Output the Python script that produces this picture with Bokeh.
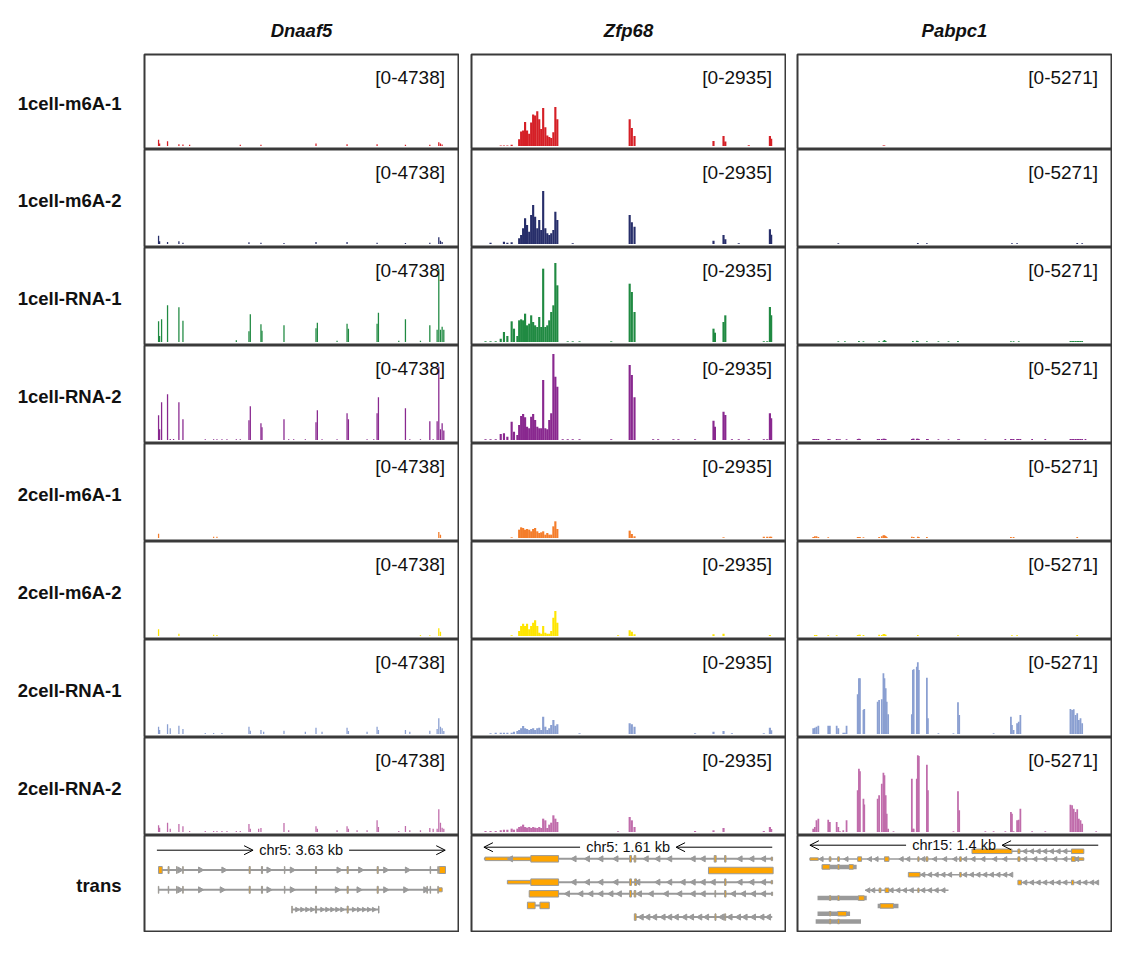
import math
from bokeh.plotting import figure
from bokeh.layouts import row, column
from bokeh.models import Range1d, Spacer, Arrow, OpenHead
from bokeh.core.properties import value
from bokeh.embed import file_html
from bokeh.resources import INLINE

FONT = "Liberation Sans"

genes = ["Dnaaf5", "Zfp68", "Pabpc1"]
chroms = ["chr5", "chr5", "chr15"]
span_kb = [3.63, 1.61, 1.4]
strands = ["+", "-", "-"]
range_max = [4738, 2935, 5271]
tracks = ["1cell-m6A-1", "1cell-m6A-2", "1cell-RNA-1", "1cell-RNA-2",
          "2cell-m6A-1", "2cell-m6A-2", "2cell-RNA-1", "2cell-RNA-2"]
colors = ["#D51F26", "#272E6A", "#208A42", "#89288F",
          "#F47D2B", "#FEE500", "#8A9FD1", "#C06CAB"]

# ---- Dnaaf5 coverage: bin positions (bp from region start) and one list per track
dn_pos = [21, 34, 59, 134, 168, 210, 277, 328, 412, 609, 714, 756, 819, 882, 1000, 1050,
          1159, 1176, 1281, 1310, 1323, 1344, 1600, 1659, 1722, 1869, 2003, 2020, 2079, 2268, 2394, 2411,
          2520, 2646, 2730, 2772, 2789, 3045, 3129, 3184, 3318, 3436, 3478, 3528, 3549, 3570, 3591, 3612]
dn_c1_m6a_1 = [347, 139, 0, 260, 0, 0, 104, 87, 69, 0, 0, 0, 0, 0, 0, 69,
               0, 0, 0, 69, 0, 0, 0, 0, 0, 0, 139, 0, 0, 0, 104, 0,
               0, 0, 0, 104, 0, 0, 69, 0, 0, 69, 0, 0, 208, 139, 87, 0]
dn_c1_m6a_2 = [434, 139, 0, 104, 0, 0, 139, 69, 0, 0, 0, 0, 0, 0, 0, 0,
               87, 0, 0, 69, 0, 0, 52, 0, 0, 0, 104, 0, 0, 0, 104, 0,
               0, 0, 0, 69, 0, 0, 52, 0, 0, 69, 0, 0, 347, 174, 104, 0]
dn_c1_rna_1 = [1077, 312, 1180, 1909, 0, 0, 1805, 1110, 0, 0, 0, 0, 0, 0, 87, 0,
               555, 1440, 0, 920, 590, 0, 868, 0, 0, 0, 711, 1006, 0, 60, 955, 694,
               0, 0, 0, 955, 1527, 70, 1180, 0, 70, 868, 0, 642, 3818, 642, 798, 642]
dn_c1_rna_2 = [1284, 555, 1961, 2378, 52, 52, 1961, 1076, 0, 45, 45, 45, 45, 45, 45, 45,
               1024, 1753, 0, 868, 660, 0, 1076, 45, 45, 45, 920, 1545, 45, 45, 1389, 1076,
               0, 45, 45, 1389, 2222, 0, 1649, 45, 45, 972, 45, 972, 3819, 555, 868, 500]
dn_c2_m6a_1 = [226, 0, 0, 0, 0, 0, 0, 0, 0, 0, 70, 60, 0, 0, 0, 0,
               0, 0, 0, 0, 0, 0, 0, 0, 0, 0, 0, 0, 0, 0, 0, 0,
               0, 0, 0, 0, 0, 0, 0, 0, 0, 0, 0, 0, 312, 174, 0, 0]
dn_c2_m6a_2 = [347, 0, 0, 0, 0, 0, 120, 0, 0, 0, 70, 50, 0, 0, 0, 0,
               0, 0, 0, 0, 0, 0, 0, 0, 0, 0, 0, 0, 0, 0, 0, 0,
               0, 0, 0, 0, 0, 0, 0, 0, 50, 40, 0, 0, 400, 226, 0, 0]
dn_c2_rna_1 = [382, 208, 0, 503, 295, 0, 434, 260, 0, 50, 50, 0, 50, 0, 0, 0,
               382, 170, 0, 208, 0, 120, 174, 0, 0, 120, 330, 0, 120, 0, 330, 150,
               0, 120, 0, 382, 208, 0, 208, 120, 0, 174, 0, 260, 816, 382, 295, 156]
dn_c2_rna_2 = [347, 226, 0, 486, 174, 0, 417, 295, 52, 52, 52, 52, 52, 52, 52, 52,
               417, 174, 174, 208, 0, 0, 469, 87, 0, 0, 295, 174, 0, 87, 295, 174,
               87, 87, 0, 608, 260, 52, 312, 87, 87, 208, 174, 174, 1180, 486, 226, 174]

# ---- Zfp68 coverage
zf_pos = [9, 37, 66, 94, 112, 131, 155, 168, 187,
          197, 208, 219, 230, 241, 253, 264, 275, 286, 298, 309, 320, 331, 343, 354, 365, 376, 388, 399, 410,
          440, 468, 496, 534, 711, 749, 814, 826, 841, 945, 973, 1058, 1086, 1179, 1282, 1290, 1338, 1348,
          1385, 1423, 1479, 1563, 1582, 1597, 1604]
zf_c1_m6a_1 = [0, 0, 0, 22, 22, 22, 43, 0, 0,
               226, 484, 516, 800, 516, 409, 785, 1054, 1021, 1161, 892, 570, 1268, 624, 355, 301, 269, 462, 1301, 892,
               0, 0, 0, 0, 0, 0, 892, 600, 333, 0, 0, 0, 0, 0, 172, 0, 333, 150, 0, 0, 30, 0, 0, 333, 247]
zf_c1_m6a_2 = [0, 43, 0, 0, 75, 43, 54, 0, 0,
               183, 290, 505, 828, 613, 398, 935, 1258, 882, 505, 774, 452, 1709, 505, 344, 290, 344, 452, 1043, 774,
               0, 0, 22, 0, 0, 0, 935, 700, 559, 0, 0, 0, 0, 0, 108, 0, 290, 150, 0, 22, 0, 0, 0, 473, 300]
zf_c1_rna_1 = [22, 22, 22, 108, 323, 194, 667, 430, 194,
               699, 731, 699, 914, 538, 591, 860, 645, 538, 484, 806, 484, 2365, 484, 538, 699, 968, 1183, 2548, 1828,
               0, 22, 22, 22, 22, 0, 1881, 1613, 968, 0, 0, 0, 0, 0, 430, 300, 645, 860, 0, 0, 0, 22, 22, 1129, 860]
zf_c1_rna_2 = [22, 22, 22, 194, 215, 108, 591, 269, 161,
               484, 774, 839, 731, 430, 376, 753, 839, 645, 430, 376, 376, 1935, 376, 344, 645, 860, 2774, 2043, 1720,
               22, 22, 22, 22, 22, 0, 2419, 2100, 1376, 22, 22, 22, 22, 22, 624, 430, 914, 806, 22, 22, 22, 22, 22, 860, 699]
zf_c2_m6a_1 = [0, 0, 0, 0, 0, 0, 22, 0, 0,
               269, 344, 323, 269, 290, 269, 215, 290, 323, 215, 161, 183, 215, 108, 161, 108, 108, 376, 538, 290,
               0, 0, 0, 0, 0, 0, 237, 129, 54, 0, 0, 0, 0, 0, 0, 0, 22, 0, 0, 0, 0, 43, 43, 43, 43]
zf_c2_m6a_2 = [0, 0, 0, 0, 0, 0, 22, 0, 0,
               161, 323, 398, 323, 398, 215, 323, 430, 505, 323, 108, 75, 323, 108, 75, 75, 161, 591, 806, 430,
               0, 0, 0, 0, 0, 22, 183, 140, 54, 0, 0, 0, 0, 0, 54, 0, 75, 0, 0, 0, 0, 0, 0, 32, 0]
zf_c2_rna_1 = [0, 22, 43, 43, 43, 43, 43, 75, 97,
               129, 183, 258, 183, 161, 129, 161, 183, 129, 183, 204, 129, 559, 237, 129, 183, 290, 452, 269, 312,
               0, 0, 0, 22, 0, 0, 344, 312, 237, 0, 0, 0, 0, 22, 75, 0, 97, 0, 22, 0, 0, 22, 0, 204, 120]
zf_c2_rna_2 = [32, 32, 32, 54, 75, 75, 108, 75, 108,
               161, 183, 237, 161, 140, 161, 129, 161, 140, 129, 161, 129, 430, 376, 129, 237, 301, 538, 430, 323,
               0, 0, 0, 0, 0, 22, 484, 376, 161, 0, 0, 0, 0, 32, 54, 0, 129, 0, 0, 0, 0, 32, 0, 161, 100]

# ---- Pabpc1 coverage
pa_pos = [16, 24, 32, 41, 89, 97, 130, 138, 146, 162, 170, 178, 232, 238, 243, 260, 264, 329, 336, 349,
          357, 362, 368, 373, 380, 406, 495, 500, 504, 519, 524, 529, 568, 573, 624, 673, 697, 719, 725, 852,
          892, 949, 976, 981, 989, 1006, 1014, 1022, 1079, 1143, 1265, 1273, 1281, 1290, 1298, 1306, 1314, 1322, 1338, 1390]
pa_c1_m6a_1 = [0, 0, 0, 0, 0, 0, 0, 0, 0, 0, 0, 0, 0, 0, 0, 0, 0, 0, 0, 0,
               39, 39, 0, 0, 0, 0, 0, 0, 0, 0, 0, 0, 0, 0, 0, 0, 0, 0, 0, 0,
               0, 0, 0, 0, 0, 0, 0, 0, 0, 0, 0, 0, 0, 0, 0, 0, 0, 0, 0, 0]
pa_c1_m6a_2 = [0, 0, 0, 0, 0, 0, 0, 39, 0, 0, 0, 0, 0, 0, 0, 0, 0, 0, 0, 0,
               0, 0, 0, 0, 0, 0, 0, 0, 0, 0, 58, 0, 39, 0, 0, 0, 0, 0, 0, 0,
               0, 0, 0, 39, 0, 39, 0, 0, 0, 0, 0, 0, 0, 0, 58, 0, 0, 39, 0, 0]
pa_c1_rna_1 = [0, 0, 0, 0, 0, 0, 0, 39, 0, 0, 39, 0, 0, 58, 0, 39, 0, 0, 39, 0,
               58, 116, 58, 0, 0, 0, 0, 58, 0, 77, 58, 0, 39, 0, 39, 39, 0, 58, 0, 0,
               0, 0, 39, 0, 39, 0, 39, 0, 0, 0, 58, 58, 58, 58, 58, 58, 58, 58, 0, 0]
pa_c1_rna_2 = [58, 58, 58, 58, 58, 39, 58, 39, 39, 0, 0, 39, 58, 77, 58, 0, 0, 58, 58, 58,
               77, 77, 58, 0, 0, 0, 58, 77, 77, 77, 77, 58, 58, 58, 39, 39, 0, 39, 39, 39,
               0, 58, 58, 58, 58, 58, 58, 58, 58, 58, 58, 58, 58, 58, 58, 58, 58, 58, 58, 0]
pa_c2_m6a_1 = [58, 97, 97, 58, 39, 0, 0, 0, 0, 0, 0, 0, 58, 58, 58, 39, 0, 0, 58, 97,
               155, 155, 116, 58, 0, 0, 77, 0, 58, 0, 77, 58, 58, 0, 0, 0, 0, 0, 0, 0,
               0, 0, 58, 0, 58, 0, 0, 0, 0, 0, 0, 0, 0, 0, 58, 0, 0, 0, 0, 0]
pa_c2_m6a_2 = [0, 58, 58, 0, 39, 0, 39, 0, 0, 0, 0, 0, 58, 77, 77, 58, 0, 0, 77, 58,
               116, 116, 77, 0, 0, 0, 0, 0, 0, 0, 58, 0, 0, 0, 0, 0, 0, 39, 0, 0,
               0, 0, 0, 39, 0, 39, 0, 0, 0, 0, 0, 0, 0, 0, 58, 0, 0, 0, 0, 0]
pa_c2_rna_1 = [328, 367, 425, 483, 483, 483, 483, 328, 0, 77, 77, 483, 2298, 3225, 3225, 1390, 1448, 1873, 1970, 2008,
               3514, 3225, 2645, 1873, 1139, 0, 1139, 3708, 3746, 3901, 4152, 3708, 3263, 908, 39, 0, 39, 1834, 1101, 0,
               39, 0, 1004, 521, 232, 618, 714, 1101, 0, 0, 1448, 1390, 1429, 1101, 1197, 811, 908, 618, 0, 0]
pa_c2_rna_2 = [193, 290, 676, 772, 714, 579, 579, 290, 39, 97, 0, 676, 2414, 3669, 3514, 1931, 1600, 1931, 2124, 2800,
               3437, 3283, 2124, 1062, 193, 39, 3090, 193, 193, 3090, 4441, 4403, 3901, 2414, 0, 0, 39, 2356, 1255, 39,
               39, 39, 1159, 1062, 39, 676, 714, 1352, 39, 39, 1583, 1545, 1352, 1159, 1313, 772, 676, 483, 0, 39]

cov_pos = [dn_pos, zf_pos, pa_pos]
cov = [
    [dn_c1_m6a_1, dn_c1_m6a_2, dn_c1_rna_1, dn_c1_rna_2, dn_c2_m6a_1, dn_c2_m6a_2, dn_c2_rna_1, dn_c2_rna_2],
    [zf_c1_m6a_1, zf_c1_m6a_2, zf_c1_rna_1, zf_c1_rna_2, zf_c2_m6a_1, zf_c2_m6a_2, zf_c2_rna_1, zf_c2_rna_2],
    [pa_c1_m6a_1, pa_c1_m6a_2, pa_c1_rna_1, pa_c1_rna_2, pa_c2_m6a_1, pa_c2_m6a_2, pa_c2_rna_1, pa_c2_rna_2],
]

# ---- transcript models (bp from region start, lane = row inside the "trans" panel)
dn_tx_lane = [1, 2, 3]
dn_tx_start = [21, 21, 1701]
dn_tx_end = [3633, 3591, 2793]
dn_ex_lane = [1] * 13 + [2] * 14 + [3] * 4
dn_ex_start = [21, 141, 248, 325, 1161, 1316, 1605, 1996, 2395, 2773, 3440, 3537, 3553,
               18, 143, 248, 325, 1161, 1316, 1605, 1996, 2395, 2773, 3399, 3440, 3537, 3549,
               1698, 1996, 2395, 2790]
dn_ex_end = [67, 153, 254, 331, 1175, 1330, 1611, 2010, 2409, 2787, 3446, 3543, 3633,
             24, 149, 254, 331, 1175, 1330, 1611, 2010, 2409, 2787, 3405, 3446, 3543, 3591,
             1704, 2010, 2409, 2796]
dn_ex_kind = ["c"] * 13 + ["c"] * 13 + ["u"] + ["c"] * 4
dn_chev_lane = [1, 2, 3]
dn_chev_x = [[286, 546, 840, 1407, 1701, 2289, 2562, 2877, 3150],
             [286, 546, 819, 1407, 1701, 2268, 2541, 2877, 3129, 3381],
             [1764, 1827, 1890, 1953, 2079, 2142, 2205, 2268, 2331, 2478, 2541, 2604, 2667, 2730]]
dn_blk_lane, dn_blk_start, dn_blk_end = [], [], []

zf_tx_lane = [1, 3, 4, 5, 6]
zf_tx_start = [0, 131, 253, 243, 842]
zf_tx_end = [1610, 1610, 1610, 365, 1610]
zf_ex_lane = [1] * 7 + [2] + [3] * 6 + [4] * 6 + [5] * 2 + [6] * 3
zf_ex_start = [6, 262, 814, 839, 1286, 1344, 1604,
               1254,
               131, 262, 814, 842, 1344, 1604,
               253, 814, 839, 1290, 1344, 1606,
               243, 313,
               840, 1290, 1344]
zf_ex_end = [262, 417, 824, 848, 1297, 1352, 1612,
             1615,
             262, 417, 824, 852, 1352, 1612,
             417, 824, 848, 1294, 1352, 1612,
             286, 365,
             850, 1296, 1350]
zf_ex_kind = ["u", "c", "c", "c", "c", "c", "u",
              "c",
              "u", "c", "c", "c", "c", "u",
              "c", "c", "c", "c", "c", "u",
              "c", "c",
              "c", "c", "c"]
zf_chev_lane = [1, 3, 4, 6]
zf_chev_x = [[150, 505, 580, 655, 739, 908, 973, 1039, 1170, 1226, 1432, 1498, 1563],
             [505, 580, 655, 739, 861, 973, 1039, 1114, 1170, 1226, 1282, 1432, 1498, 1563],
             [468, 543, 599, 655, 711, 758, 870, 936, 1020, 1095, 1170, 1226, 1395, 1451, 1507, 1563],
             [880, 917, 955, 1002, 1039, 1076, 1123, 1161, 1207, 1245, 1329, 1376, 1423, 1460, 1507, 1554, 1591]]
zf_blk_lane, zf_blk_start, zf_blk_end = [], [], []

pa_tx_lane = [1, 2, 4, 5, 6]
pa_tx_start = [981, 0, 535, 1027, 268]
pa_tx_end = [1330, 1330, 981, 1400, 673]
pa_blk_lane = [3, 7, 8, 9, 10]
pa_blk_start = [57, 37, 329, 37, 28]
pa_blk_end = [227, 276, 430, 195, 248]
pa_ex_lane = [1] * 3 + [2] * 11 + [3] * 3 + [4] * 2 + [5] * 2 + [6] * 3 + [7] * 3 + [8] + [9] * 2 + [10] * 2
pa_ex_start = [787, 1010, 1270,
               0, 94, 135, 232, 362, 524, 564, 727, 1010, 1270, 1289,
               60, 135, 190,
               478, 727,
               1010, 1270,
               336, 365, 524,
               94, 135, 235,
               341,
               94, 135,
               94, 135]
pa_ex_end = [981, 1020, 1330,
             41, 102, 143, 251, 384, 530, 573, 735, 1020, 1289, 1330,
             97, 143, 211,
             535, 735,
             1027, 1281,
             345, 384, 530,
             102, 143, 264,
             406,
             102, 178,
             102, 143]
pa_ex_kind = ["c"] * 3 + ["u"] + ["c"] * 9 + ["u"] + ["c"] * 18
pa_chev_lane = [2, 4, 5, 6, 1]
pa_chev_x = [[57, 178, 292, 324, 446, 478, 551, 608, 657, 706, 754, 795, 843, 900, 949, 1046, 1095, 1143, 1192, 1241, 1298],
             [551, 584, 616, 649, 681, 754, 787, 819, 852, 884, 916, 949, 978],
             [1046, 1079, 1111, 1143, 1176, 1208, 1241, 1306, 1338, 1371, 1395],
             [284, 308, 397, 430, 462, 495, 551, 584, 616, 649],
             [1046, 1079, 1111, 1143, 1176, 1208, 1241]]

models = [
    (dn_tx_lane, dn_tx_start, dn_tx_end, dn_ex_lane, dn_ex_start, dn_ex_end, dn_ex_kind,
     dn_chev_lane, dn_chev_x, dn_blk_lane, dn_blk_start, dn_blk_end),
    (zf_tx_lane, zf_tx_start, zf_tx_end, zf_ex_lane, zf_ex_start, zf_ex_end, zf_ex_kind,
     zf_chev_lane, zf_chev_x, zf_blk_lane, zf_blk_start, zf_blk_end),
    (pa_tx_lane, pa_tx_start, pa_tx_end, pa_ex_lane, pa_ex_start, pa_ex_end, pa_ex_kind,
     pa_chev_lane, pa_chev_x, pa_blk_lane, pa_blk_start, pa_blk_end),
]

# ---- layout / style
MARGIN = 8
LABEL_W = 135
PANEL_W = 316
FRAME_W = PANEL_W - 2
HEAD_H = 45
ROW_H = [96, 98, 98, 98, 98, 98, 98, 98]
TRANS_H = 97
bar_w = [16, 12, 8.5]
head_y = [14.7, 11.7, 9.7]
lane_y0 = [14.7, 11.7, 8.0]
lane_pitch = [19.8, 11.65, 7.8]
cds_h = [7, 6.5, 4.5]
utr_h = [4, 3.5, 2.5]
chev_size = [6, 6, 5]
GRAY = "#9a9a9a"
ORANGE = "#FFA500"
BORDER = "#3a3a3a"


def xr(g):
    L = span_kb[g] * 1000
    return Range1d(-0.043 * L, 1.046 * L)


def base_fig(w, h, x_range, y_range, top=0, bottom=0, side=0, outline=None):
    p = figure(width=w, height=h, x_range=x_range, y_range=y_range, toolbar_location=None,
               output_backend="svg", x_axis_location=None, y_axis_location=None, min_border=0,
               min_border_left=side, min_border_right=side, min_border_top=top, min_border_bottom=bottom)
    p.grid.visible = False
    p.outline_line_color = outline
    if outline:
        p.outline_line_width = 2
    return p


def signal_panel(g, t, first):
    L = span_kb[g] * 1000
    M = range_max[g]
    h = ROW_H[t]
    fh = h - (1 if first else 0)
    p = base_fig(PANEL_W, h, xr(g), Range1d(-0.0385 * M, 1.0385 * M),
                 top=1 if first else 0, side=1, outline=BORDER)
    pos, hts = cov_pos[g], cov[g][t]
    keep = [i for i, v in enumerate(hts) if v > 0]
    p.vbar(x=[pos[i] for i in keep], top=[hts[i] for i in keep], bottom=0,
           width=bar_w[g], fill_color=colors[t], line_color=None)
    xs = 1.089 * L / FRAME_W
    ys = 1.077 * M / fh
    p.text(x=[1.046 * L - 13.5 * xs], y=[1.0385 * M - 22.5 * ys], text=["[0-%d]" % M],
           text_align="right", text_baseline="alphabetic", text_font=value(FONT),
           text_font_size="19px", text_color="#111111")
    return p


def trans_panel(g):
    L = span_kb[g] * 1000
    p = base_fig(PANEL_W, TRANS_H, xr(g), Range1d(TRANS_H - 1, 0), bottom=1, side=1, outline=BORDER)
    (tx_lane, tx_s, tx_e, ex_lane, ex_s, ex_e, ex_k,
     ch_lane, ch_x, bl_lane, bl_s, bl_e) = models[g]
    ly = lambda lane: lane_y0[g] + lane_pitch[g] * lane
    p.segment(x0=tx_s, y0=[ly(l) for l in tx_lane], x1=tx_e, y1=[ly(l) for l in tx_lane],
              line_color=GRAY, line_width=2 if g < 2 else 1.5)
    if bl_lane:
        p.segment(x0=bl_s, y0=[ly(l) for l in bl_lane], x1=bl_e, y1=[ly(l) for l in bl_lane],
                  line_color=GRAY, line_width=4.5, line_cap="butt")
    hh = [(cds_h[g] if k == "c" else utr_h[g]) / 2 for k in ex_k]
    p.quad(left=ex_s, right=ex_e,
           top=[ly(l) - d for l, d in zip(ex_lane, hh)],
           bottom=[ly(l) + d for l, d in zip(ex_lane, hh)],
           fill_color=ORANGE, line_color=GRAY, line_width=1)
    ang = -math.pi / 2 if strands[g] == "+" else math.pi / 2
    cx, cy, cs = [], [], []
    for lane, xs_ in zip(ch_lane, ch_x):
        cx += xs_
        cy += [ly(lane)] * len(xs_)
        # the short third Dnaaf5 isoform has finer strand marks
        cs += [chev_size[g] - (1.5 if (g == 0 and lane == 3) else 0)] * len(xs_)
    p.scatter(x=cx, y=cy, marker="triangle", angle=ang, size=cs,
              fill_color=GRAY, line_color=GRAY)
    # region ruler with strand arrows
    gap = 48 * 1.089 * L / FRAME_W
    y0 = head_y[g]
    if strands[g] == "+":
        pairs = [(0, L / 2 - gap), (L / 2 + gap, L)]
    else:
        pairs = [(L / 2 - gap, 0), (L, L / 2 + gap)]
    for a, b in pairs:
        p.add_layout(Arrow(x_start=a, y_start=y0, x_end=b, y_end=y0, line_color="black", line_width=1,
                           end=OpenHead(size=9, line_color="black", line_width=1)))
    p.text(x=[L / 2], y=[y0], text=["%s: %s kb" % (chroms[g], span_kb[g])], text_align="center",
           text_baseline="middle", text_font=value(FONT), text_font_size="14.5px", text_color="#111111")
    return p


def title_fig(g):
    p = base_fig(PANEL_W, HEAD_H, Range1d(0, PANEL_W), Range1d(0, HEAD_H))
    p.text(x=[PANEL_W / 2], y=[HEAD_H - 22], text=[genes[g]], text_align="center", text_baseline="middle",
           text_font=value(FONT), text_font_size="18.5px", text_font_style="bold italic", text_color="#111111")
    return p


def label_fig(txt, h):
    p = base_fig(LABEL_W, h, Range1d(0, LABEL_W), Range1d(0, h))
    p.text(x=[LABEL_W - 22], y=[h / 2 - 1.5], text=[txt], text_align="right", text_baseline="middle",
           text_font=value(FONT), text_font_size="18.5px", text_font_style="bold", text_color="#111111")
    return p


label_col = column([Spacer(width=LABEL_W, height=HEAD_H)]
                   + [label_fig(tracks[t], ROW_H[t]) for t in range(8)]
                   + [label_fig("trans", TRANS_H)], spacing=0)
gene_cols = []
for g in range(3):
    gene_cols.append(column([title_fig(g)] + [signal_panel(g, t, t == 0) for t in range(8)]
                            + [trans_panel(g)], spacing=0))

grid = row([Spacer(width=MARGIN, height=10), label_col, gene_cols[0], Spacer(width=11), gene_cols[1],
            Spacer(width=10), gene_cols[2]], spacing=0)
layout = column([Spacer(width=10, height=MARGIN), grid], spacing=0)

open("out.html", "w").write(file_html(layout, INLINE))
